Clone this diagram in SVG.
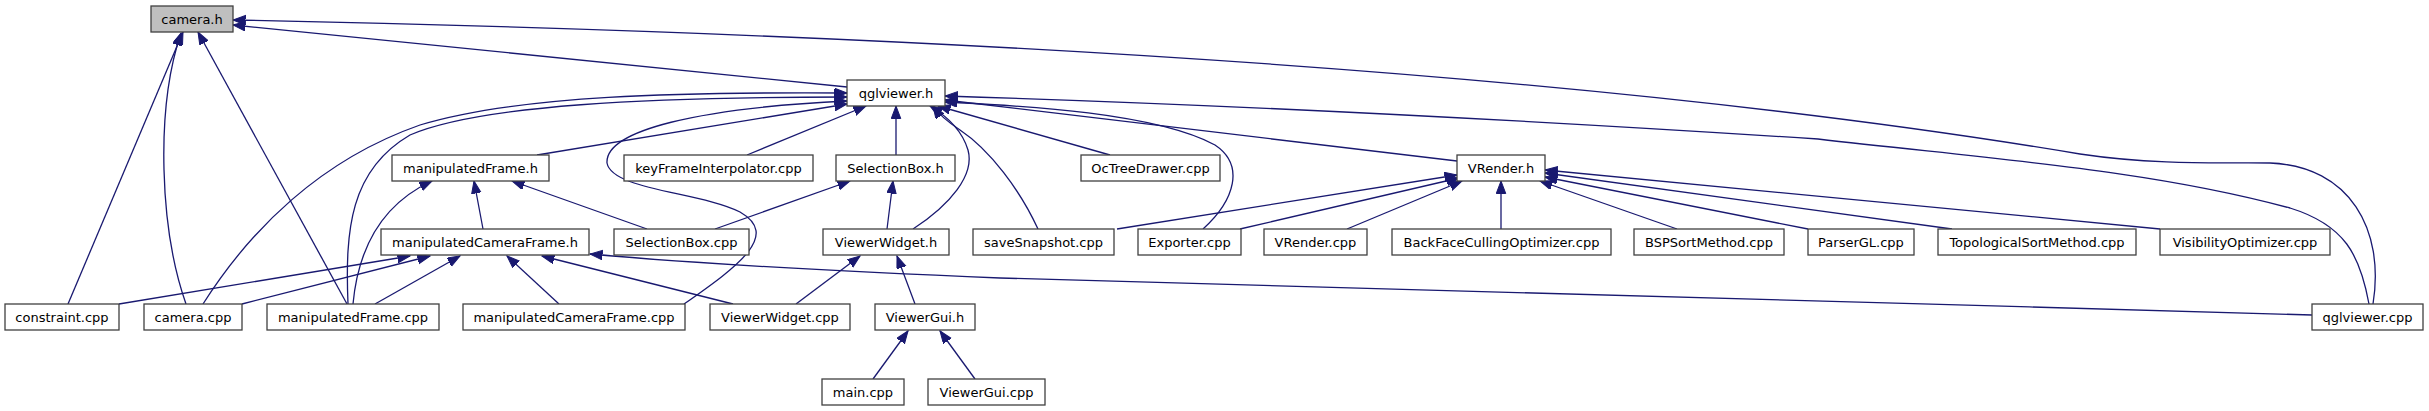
<svg xmlns="http://www.w3.org/2000/svg" width="2429" height="411" viewBox="0 0 2429 411">
<style>
.n rect{fill:#fff;stroke:#404040;stroke-width:1.3}
.n.root rect{fill:#bfbfbf}
.n text{font-family:"DejaVu Sans",sans-serif;font-size:13px;fill:#000;text-anchor:middle}
.e path{fill:none;stroke:#191970;stroke-width:1.3;marker-end:url(#ah)}
</style>
<defs>
<marker id="ah" markerUnits="userSpaceOnUse" markerWidth="14" markerHeight="11" refX="12.5" refY="4.75" orient="auto">
<path d="M0,0 L12.5,4.75 L0,9.5 z" fill="#191970" stroke="#191970" stroke-width="1"/>
</marker>
</defs>
<rect width="2429" height="411" fill="#fff"/>
<g id="edges" class="e">
<path d="M68,304 L183,32"/>
<path d="M186,304 C160,230 155,110 181,33"/>
<path d="M347,304 L198,32"/>
<path d="M847,87 L233,25"/>
<path d="M2373,304 C2385,230 2350,166 2270,163 C2230,162 2160,166 2080,154 Q1424,44 233,20"/>
<path d="M203,304 C250,230 320,160 420,125 C520,95 680,92 847,93"/>
<path d="M348,304 C345,230 350,170 410,135 C480,105 650,97 847,97"/>
<path d="M684,304 C740,265 780,235 740,212 C700,192 612,190 607,163 C605,130 700,108 847,101"/>
<path d="M537,155 L847,104"/>
<path d="M747,155 L866,106"/>
<path d="M896,155 L896,106"/>
<path d="M1110,155 L938,106"/>
<path d="M1457,161 L945,100"/>
<path d="M913,229 C950,205 975,175 968,150 C962,130 945,115 930,106"/>
<path d="M1038,229 C1020,190 990,150 960,130 C945,120 937,112 933,106"/>
<path d="M1203,229 C1235,200 1245,165 1215,145 C1150,110 1000,105 945,102"/>
<path d="M2369,304 C2360,255 2345,225 2290,208 C2150,170 2000,160 1818,139 Q1338,108 945,96"/>
<path d="M353,304 C358,250 380,205 432,181"/>
<path d="M483,229 L474,181"/>
<path d="M647,229 L512,181"/>
<path d="M119,304 L410,256"/>
<path d="M242,304 L430,256"/>
<path d="M375,304 L460,256"/>
<path d="M559,304 L507,256"/>
<path d="M733,304 L542,256"/>
<path d="M2312,315 C1800,300 1200,285 1000,278 C800,270 680,262 590,254"/>
<path d="M715,229 L850,181"/>
<path d="M887,229 L893,181"/>
<path d="M796,304 L860,256"/>
<path d="M915,304 L897,256"/>
<path d="M873,379 L908,331"/>
<path d="M975,379 L940,331"/>
<path d="M1117,229 L1457,175"/>
<path d="M1240,229 L1459,178"/>
<path d="M1347,229 L1462,181"/>
<path d="M1501,229 L1501,181"/>
<path d="M1677,229 L1540,181"/>
<path d="M1808,229 L1545,177"/>
<path d="M1952,229 L1545,173"/>
<path d="M2160,229 L1545,170"/>
</g>
<g id="n_camera_h" class="n root"><rect x="151" y="6" width="82" height="26"/><text x="192" y="23.5">camera.h</text></g>
<g id="n_qglviewer_h" class="n"><rect x="847" y="80" width="98" height="26"/><text x="896" y="97.5">qglviewer.h</text></g>
<g id="n_manipulatedFrame_h" class="n"><rect x="392" y="155" width="157" height="26"/><text x="470.5" y="172.5">manipulatedFrame.h</text></g>
<g id="n_keyFrameInterpolator_cpp" class="n"><rect x="624" y="155" width="189" height="26"/><text x="718.5" y="172.5">keyFrameInterpolator.cpp</text></g>
<g id="n_SelectionBox_h" class="n"><rect x="836" y="155" width="119" height="26"/><text x="895.5" y="172.5">SelectionBox.h</text></g>
<g id="n_OcTreeDrawer_cpp" class="n"><rect x="1081" y="155" width="139" height="26"/><text x="1150.5" y="172.5">OcTreeDrawer.cpp</text></g>
<g id="n_VRender_h" class="n"><rect x="1457" y="155" width="88" height="26"/><text x="1501" y="172.5">VRender.h</text></g>
<g id="n_manipulatedCameraFrame_h" class="n"><rect x="381" y="229" width="208" height="26"/><text x="485" y="246.5">manipulatedCameraFrame.h</text></g>
<g id="n_SelectionBox_cpp" class="n"><rect x="614" y="229" width="135" height="26"/><text x="681.5" y="246.5">SelectionBox.cpp</text></g>
<g id="n_ViewerWidget_h" class="n"><rect x="823" y="229" width="126" height="26"/><text x="886" y="246.5">ViewerWidget.h</text></g>
<g id="n_saveSnapshot_cpp" class="n"><rect x="973" y="229" width="141" height="26"/><text x="1043.5" y="246.5">saveSnapshot.cpp</text></g>
<g id="n_Exporter_cpp" class="n"><rect x="1138" y="229" width="103" height="26"/><text x="1189.5" y="246.5">Exporter.cpp</text></g>
<g id="n_VRender_cpp" class="n"><rect x="1264" y="229" width="103" height="26"/><text x="1315.5" y="246.5">VRender.cpp</text></g>
<g id="n_BackFaceCullingOptimizer_cpp" class="n"><rect x="1392" y="229" width="219" height="26"/><text x="1501.5" y="246.5">BackFaceCullingOptimizer.cpp</text></g>
<g id="n_BSPSortMethod_cpp" class="n"><rect x="1634" y="229" width="150" height="26"/><text x="1709" y="246.5">BSPSortMethod.cpp</text></g>
<g id="n_ParserGL_cpp" class="n"><rect x="1808" y="229" width="106" height="26"/><text x="1861" y="246.5">ParserGL.cpp</text></g>
<g id="n_TopologicalSortMethod_cpp" class="n"><rect x="1938" y="229" width="198" height="26"/><text x="2037" y="246.5">TopologicalSortMethod.cpp</text></g>
<g id="n_VisibilityOptimizer_cpp" class="n"><rect x="2160" y="229" width="170" height="26"/><text x="2245" y="246.5">VisibilityOptimizer.cpp</text></g>
<g id="n_constraint_cpp" class="n"><rect x="5" y="304" width="114" height="26"/><text x="62" y="321.5">constraint.cpp</text></g>
<g id="n_camera_cpp" class="n"><rect x="144" y="304" width="98" height="26"/><text x="193" y="321.5">camera.cpp</text></g>
<g id="n_manipulatedFrame_cpp" class="n"><rect x="267" y="304" width="172" height="26"/><text x="353" y="321.5">manipulatedFrame.cpp</text></g>
<g id="n_manipulatedCameraFrame_cpp" class="n"><rect x="463" y="304" width="222" height="26"/><text x="574" y="321.5">manipulatedCameraFrame.cpp</text></g>
<g id="n_ViewerWidget_cpp" class="n"><rect x="710" y="304" width="140" height="26"/><text x="780" y="321.5">ViewerWidget.cpp</text></g>
<g id="n_ViewerGui_h" class="n"><rect x="875" y="304" width="100" height="26"/><text x="925" y="321.5">ViewerGui.h</text></g>
<g id="n_qglviewer_cpp" class="n"><rect x="2312" y="304" width="111" height="26"/><text x="2367.5" y="321.5">qglviewer.cpp</text></g>
<g id="n_main_cpp" class="n"><rect x="822" y="379" width="82" height="26"/><text x="863" y="396.5">main.cpp</text></g>
<g id="n_ViewerGui_cpp" class="n"><rect x="928" y="379" width="117" height="26"/><text x="986.5" y="396.5">ViewerGui.cpp</text></g>
</svg>
